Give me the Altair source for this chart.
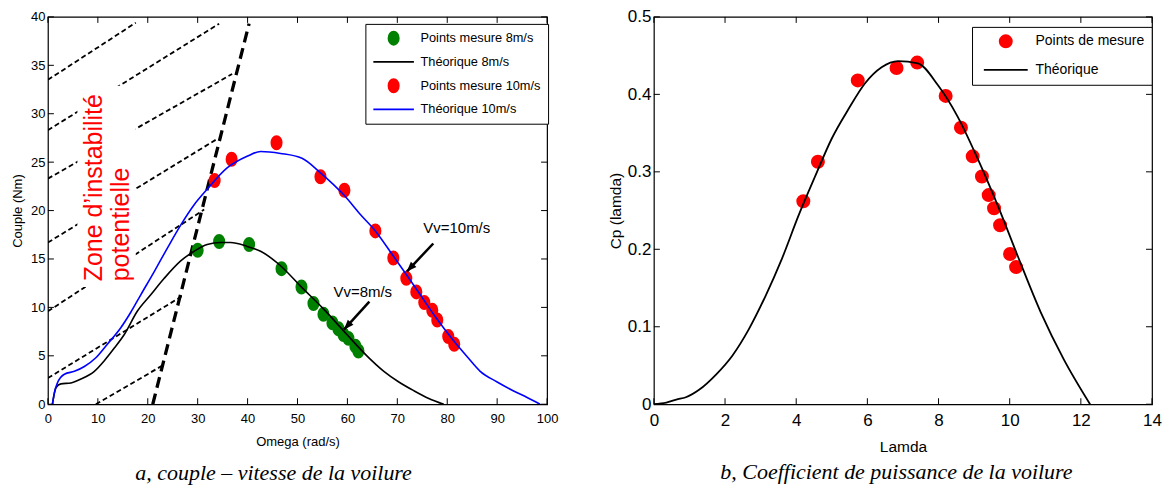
import math
import altair as alt
import pandas as pd

# ================= panel a : couple - vitesse =================
omega_pts8 = [30.0, 34.3, 40.3, 46.8, 50.8, 53.2, 55.2, 57.0, 58.2, 59.2, 60.2, 61.6, 62.2]
couple_pts8 = [15.9, 16.8, 16.5, 14.0, 12.1, 10.4, 9.3, 8.4, 7.8, 7.2, 6.8, 6.0, 5.5]
omega_pts10 = [33.4, 36.8, 45.8, 54.6, 59.4, 65.6, 69.2, 71.8, 73.8, 75.4, 77.0, 78.0, 80.2, 81.4]
couple_pts10 = [23.1, 25.3, 27.0, 23.5, 22.1, 17.9, 15.1, 13.0, 11.6, 10.5, 9.7, 8.7, 7.0, 6.2]

omega_th8 = [0.9, 1.6, 2.6, 4.6, 6.6, 9.3, 11.3, 13.3, 15.3, 17.9, 20.6, 23.3, 26.6, 29.3,
             31.9, 34.6, 36.6, 39.9, 42.6, 46.6, 50.6, 55.3, 59.9, 63.9, 67.3, 70.3, 73.3,
             76.3, 79.3]
couple_th8 = [0.0, 1.7, 2.1, 2.2, 2.6, 3.4, 4.5, 5.8, 7.2, 9.6, 11.3, 13.0, 14.8, 15.8,
              16.5, 16.7, 16.7, 16.3, 15.8, 14.3, 12.2, 9.8, 7.2, 5.0, 3.4, 2.3, 1.4,
              0.6, 0.0]
omega_th10 = [0.9, 1.3, 1.9, 3.3, 5.3, 7.3, 9.6, 11.9, 14.6, 16.6, 18.6, 21.3, 23.9, 26.6,
              29.3, 31.9, 35.9, 39.9, 42.6, 46.6, 50.9, 54.6, 59.3, 62.6, 65.6, 69.2, 71.8,
              74.6, 77.8, 81.2, 84.0, 86.6, 90.0, 93.2, 96.0, 98.6]
couple_th10 = [0.0, 1.2, 2.2, 3.1, 3.4, 3.9, 4.8, 6.2, 7.9, 9.5, 11.3, 13.7, 16.1, 18.5,
               20.6, 22.2, 24.4, 25.6, 26.1, 25.9, 25.4, 23.9, 21.6, 19.6, 17.9, 15.3, 13.4,
               11.3, 8.9, 6.6, 4.9, 3.4, 2.3, 1.4, 0.7, 0.0]

hatch_x1 = [0.0, 0.0, 0.0, 0.0, 0.0, 0.0, 9.6]
hatch_y1 = [33.5, 28.3, 23.3, 16.7, 9.6, 2.7, 0.0]
hatch_x2 = [17.6, 34.3, 36.9, 33.6, 31.3, 27.3, 23.3]
hatch_y2 = [39.4, 39.3, 34.1, 27.3, 20.1, 11.3, 4.1]
limit_omega = [21.0, 40.3]
limit_couple = [0.0, 39.3]
zone_box_omega = [5.9, 17.6]
zone_box_couple = [12.1, 32.9]
zone_text = ["Zone d\u2019instabilité", "potentielle"]
zone_text_omega = [10.9, 16.3]
zone_text_couple = [12.7, 12.7]
vv_labels = ["Vv=10m/s", "Vv=8m/s"]
vv_label_omega = [75.2, 57.2]
vv_label_couple = [18.2, 11.6]
arrow_start_omega = [77.2, 64.4]
arrow_start_couple = [16.6, 10.6]
arrow_end_omega = [71.9, 59.3]
arrow_end_couple = [13.7, 7.7]
omega_ticks = list(range(0, 101, 10))
couple_ticks = list(range(0, 41, 5))
series_a = ["Points mesure 8m/s", "Théorique 8m/s", "Points mesure 10m/s", "Théorique 10m/s"]

# ================= panel b : Cp - lamda =================
lamda_pts = [4.20, 4.61, 5.73, 6.82, 7.40, 8.20, 8.63, 8.96, 9.22, 9.41, 9.56, 9.73, 10.01, 10.18]
cp_pts = [0.262, 0.313, 0.418, 0.434, 0.441, 0.398, 0.357, 0.320, 0.294, 0.270, 0.253, 0.231, 0.194, 0.177]
lamda_th = [0.0, 0.35, 0.63, 0.9, 1.28, 1.74, 2.21, 2.67, 3.14, 3.60, 4.07, 4.54, 5.0, 5.47,
            5.93, 6.40, 6.86, 7.42, 7.98, 8.54, 9.10, 9.66, 10.22, 10.87, 11.52, 12.26]
cp_th = [0.0, 0.002, 0.006, 0.009, 0.019, 0.038, 0.063, 0.097, 0.140, 0.188, 0.244, 0.295,
         0.343, 0.381, 0.414, 0.435, 0.443, 0.440, 0.412, 0.371, 0.317, 0.257, 0.192, 0.119,
         0.058, 0.0]
lamda_ticks = list(range(0, 15, 2))
cp_ticks = [0.0, 0.1, 0.2, 0.3, 0.4, 0.5]
series_b = ["Points de mesure", "Théorique"]

# ================= styling =================
FONT = "Liberation Sans"
W1, H1 = 500, 388
W2, H2 = 499, 388
TICK = 6
ELL = "M0,-1A0.78,1,0,1,1,0,1A0.78,1,0,1,1,0,-1Z"
LINE_A = "M-3.08,0H3.08"
LINE_B = "M-3.6,0H3.6"
HEAD = "M0,0L-0.38,1L0.38,1Z"

# ---------------- panel a tables ----------------
pts_a = pd.DataFrame({
    "x": omega_pts8 + omega_pts10,
    "y": couple_pts8 + couple_pts10,
    "series": [series_a[0]] * len(omega_pts8) + [series_a[2]] * len(omega_pts10),
})
th_a = pd.DataFrame({
    "x": omega_th8 + omega_th10,
    "y": couple_th8 + couple_th10,
    "series": [series_a[1]] * len(omega_th8) + [series_a[3]] * len(omega_th10),
    "i": list(range(len(omega_th8))) + list(range(len(omega_th10))),
})
hatch = pd.DataFrame({"x1": hatch_x1, "y1": hatch_y1, "x2": hatch_x2, "y2": hatch_y2})
limit = pd.DataFrame({"x1": [limit_omega[0]], "y1": [limit_couple[0]],
                      "x2": [limit_omega[1]], "y2": [limit_couple[1]]})
zbox = pd.DataFrame({"x1": [zone_box_omega[0]], "x2": [zone_box_omega[1]],
                     "y1": [zone_box_couple[0]], "y2": [zone_box_couple[1]]})
ztext = pd.DataFrame({"x": zone_text_omega, "y": zone_text_couple, "t": zone_text})
vv = pd.DataFrame({"x": vv_label_omega, "y": vv_label_couple, "t": vv_labels})
sx, sy = W1 / 100.0, H1 / 40.0
angles = [
    math.degrees(math.atan2((x2 - x1) * sx, (y2 - y1) * sy)) % 360
    for x1, y1, x2, y2 in zip(arrow_start_omega, arrow_start_couple,
                              arrow_end_omega, arrow_end_couple)
]
arrows = pd.DataFrame({"x1": arrow_start_omega, "y1": arrow_start_couple,
                       "x2": arrow_end_omega, "y2": arrow_end_couple, "ang": angles})
tx_a = pd.DataFrame({"v": omega_ticks})
ty_a = pd.DataFrame({"v": couple_ticks})

xs_a = alt.Scale(domain=[0, 100], nice=False, zero=False)
ys_a = alt.Scale(domain=[0, 40], nice=False, zero=False)
ax_xa = alt.Axis(values=omega_ticks, ticks=False, domain=False, grid=False,
                 labelFont=FONT, labelFontSize=13, labelPadding=8.5, labelColor="black",
                 labelFlush=False, labelOverlap=False,
                 title="Omega (rad/s)", titleFont=FONT, titleFontSize=13,
                 titleFontWeight="normal", titleColor="black", titlePadding=10)
ax_ya = alt.Axis(values=couple_ticks, ticks=False, domain=False, grid=False,
                 labelFont=FONT, labelFontSize=13, labelPadding=3, labelColor="black",
                 labelFlush=False, labelOverlap=False,
                 title="Couple (Nm)", titleFont=FONT, titleFontSize=13,
                 titleFontWeight="normal", titleColor="black", titlePadding=6.5)


def XA(f):
    return alt.X(f, type="quantitative", scale=xs_a, axis=ax_xa)


def YA(f):
    return alt.Y(f, type="quantitative", scale=ys_a, axis=ax_ya)


col_a = ["#008000", "#000000", "#ff0000", "#0000ff"]
shape_a = [ELL, LINE_A, ELL, LINE_A]
leg_a = alt.Legend(title=None, orient="none", direction="vertical", legendX=318, legendY=7,
                   strokeColor="black", fillColor="white", padding=6.8, rowPadding=5.8,
                   symbolOffset=14, labelOffset=19.4, symbolSize=174, symbolStrokeWidth=1.8,
                   labelFont=FONT, labelFontSize=12.8, labelColor="black", labelLimit=300)

hatch_l = alt.Chart(hatch).mark_rule(color="black", strokeWidth=1.8, strokeDash=[5, 3],
                                     clip=True).encode(
    x=XA("x1"), y=YA("y1"), x2="x2:Q", y2="y2:Q")
box_l = alt.Chart(zbox).mark_rect(color="white").encode(
    x=XA("x1"), x2="x2:Q", y=YA("y1"), y2="y2:Q")
ztext_l = alt.Chart(ztext).mark_text(angle=270, align="left", baseline="alphabetic",
                                     font=FONT, fontSize=25, color="#ff0000").encode(
    x=XA("x"), y=YA("y"), text="t:N")
limit_l = alt.Chart(limit).mark_rule(color="black", strokeWidth=3.3, strokeDash=[11, 6],
                                     clip=True).encode(
    x=XA("x1"), y=YA("y1"), x2="x2:Q", y2="y2:Q")
pts_l = alt.Chart(pts_a).mark_point(filled=True, size=174, strokeWidth=1.8, opacity=1).encode(
    x=XA("x"), y=YA("y"),
    fill=alt.Fill("series:N", scale=alt.Scale(domain=series_a, range=col_a), legend=leg_a),
    stroke=alt.Stroke("series:N", scale=alt.Scale(domain=series_a, range=col_a), legend=leg_a),
    shape=alt.Shape("series:N", scale=alt.Scale(domain=series_a, range=shape_a), legend=leg_a))
th8_l = alt.Chart(th_a).transform_filter(alt.datum.series == series_a[1]).mark_line(
    strokeWidth=1.6, clip=True, interpolate="monotone", color=col_a[1]).encode(
    x=XA("x"), y=YA("y"), order=alt.Order("i:Q"))
th10_l = alt.Chart(th_a).transform_filter(alt.datum.series == series_a[3]).mark_line(
    strokeWidth=1.6, clip=True, interpolate="monotone", color=col_a[3]).encode(
    x=XA("x"), y=YA("y"), order=alt.Order("i:Q"))
vv_l = alt.Chart(vv).mark_text(align="left", baseline="middle", font=FONT, fontSize=15,
                               color="black").encode(x=XA("x"), y=YA("y"), text="t:N")
shaft_l = alt.Chart(arrows).mark_rule(color="black", strokeWidth=2.5).encode(
    x=XA("x1"), y=YA("y1"), x2="x2:Q", y2="y2:Q")
head_l = alt.Chart(arrows).mark_point(shape=HEAD, filled=True, size=400, color="black",
                                      opacity=1).encode(
    x=XA("x2"), y=YA("y2"), angle=alt.Angle("ang:Q", scale=None))
tb_a = alt.Chart(tx_a).mark_rule(color="black", strokeWidth=1).encode(
    x=XA("v"), y=alt.value(H1), y2=alt.value(H1 - TICK))
tt_a = alt.Chart(tx_a).mark_rule(color="black", strokeWidth=1).encode(
    x=XA("v"), y=alt.value(0), y2=alt.value(TICK))
tl_a = alt.Chart(ty_a).mark_rule(color="black", strokeWidth=1).encode(
    y=YA("v"), x=alt.value(0), x2=alt.value(TICK))
tr_a = alt.Chart(ty_a).mark_rule(color="black", strokeWidth=1).encode(
    y=YA("v"), x=alt.value(W1), x2=alt.value(W1 - TICK))

panel_a = alt.layer(hatch_l, box_l, ztext_l, limit_l, pts_l, th8_l, th10_l, vv_l, shaft_l,
                    head_l, tb_a, tt_a, tl_a, tr_a).properties(
    width=W1, height=H1,
    title=alt.TitleParams(text="a, couple \u2013 vitesse de la voilure", orient="bottom",
                          anchor="middle", frame="group", font="Liberation Serif",
                          fontSize=22, fontStyle="italic", fontWeight="normal",
                          color="black", offset=14.5, dx=-24))

# ---------------- panel b tables ----------------
pts_b = pd.DataFrame({"x": lamda_pts, "y": cp_pts, "series": series_b[0]})
th_b = pd.DataFrame({"x": lamda_th, "y": cp_th, "series": series_b[1],
                     "i": list(range(len(lamda_th)))})
tx_b = pd.DataFrame({"v": lamda_ticks})
ty_b = pd.DataFrame({"v": cp_ticks})

xs_b = alt.Scale(domain=[0, 14], nice=False, zero=False)
ys_b = alt.Scale(domain=[0, 0.5], nice=False, zero=False)
ax_xb = alt.Axis(values=lamda_ticks, ticks=False, domain=False, grid=False,
                 labelFont=FONT, labelFontSize=17, labelPadding=8, labelColor="black",
                 labelFlush=False, labelOverlap=False,
                 title="Lamda", titleFont=FONT, titleFontSize=15.5,
                 titleFontWeight="normal", titleColor="black", titlePadding=11.5)
ax_yb = alt.Axis(values=cp_ticks, ticks=False, domain=False, grid=False, format=".1~f",
                 labelFont=FONT, labelFontSize=17, labelPadding=3, labelColor="black",
                 labelFlush=False, labelOverlap=False,
                 title="Cp (lamda)", titleFont=FONT, titleFontSize=15.5,
                 titleFontWeight="normal", titleColor="black", titlePadding=4)


def XB(f):
    return alt.X(f, type="quantitative", scale=xs_b, axis=ax_xb)


def YB(f):
    return alt.Y(f, type="quantitative", scale=ys_b, axis=ax_yb)


col_b = ["#ff0000", "#000000"]
shape_b = ["circle", LINE_B]
leg_b = alt.Legend(title=None, orient="none", direction="vertical", legendX=318.7, legendY=10,
                   strokeColor="black", fillColor="white", padding=7.0, rowPadding=10.6,
                   symbolOffset=19.3, labelOffset=22.3, symbolSize=149, symbolStrokeWidth=1.8,
                   labelFont=FONT, labelFontSize=14, labelColor="black", labelLimit=300)

pts_r = alt.Chart(pts_b).mark_point(filled=True, size=149, strokeWidth=1.8, opacity=1).encode(
    x=XB("x"), y=YB("y"),
    fill=alt.Fill("series:N", scale=alt.Scale(domain=series_b, range=col_b), legend=leg_b),
    stroke=alt.Stroke("series:N", scale=alt.Scale(domain=series_b, range=col_b), legend=leg_b),
    shape=alt.Shape("series:N", scale=alt.Scale(domain=series_b, range=shape_b), legend=leg_b))
th_r = alt.Chart(th_b).mark_line(strokeWidth=1.8, clip=True, interpolate="monotone",
                                 color=col_b[1]).encode(
    x=XB("x"), y=YB("y"), order=alt.Order("i:Q"))
tb_b = alt.Chart(tx_b).mark_rule(color="black", strokeWidth=1).encode(
    x=XB("v"), y=alt.value(H2), y2=alt.value(H2 - TICK))
tt_b = alt.Chart(tx_b).mark_rule(color="black", strokeWidth=1).encode(
    x=XB("v"), y=alt.value(0), y2=alt.value(TICK))
tl_b = alt.Chart(ty_b).mark_rule(color="black", strokeWidth=1).encode(
    y=YB("v"), x=alt.value(0), x2=alt.value(TICK))
tr_b = alt.Chart(ty_b).mark_rule(color="black", strokeWidth=1).encode(
    y=YB("v"), x=alt.value(W2), x2=alt.value(W2 - TICK))

panel_b = alt.layer(pts_r, th_r, tb_b, tt_b, tl_b, tr_b).properties(
    width=W2, height=H2,
    title=alt.TitleParams(text="b, Coefficient de puissance de la voilure", orient="bottom",
                          anchor="middle", frame="group", font="Liberation Serif",
                          fontSize=22, fontStyle="italic", fontWeight="normal",
                          color="black", offset=7, dx=-6.5))

chart = alt.hconcat(panel_a, panel_b, spacing=107, bounds="flush").resolve_scale(
    fill="independent", stroke="independent", shape="independent"
).properties(
    padding={"left": 2, "top": -1.5, "right": 0, "bottom": 0},
    background="white",
).configure_view(stroke="black", strokeWidth=1.2)

chart.save("out.html", embed_options={"renderer": "svg", "actions": False})
